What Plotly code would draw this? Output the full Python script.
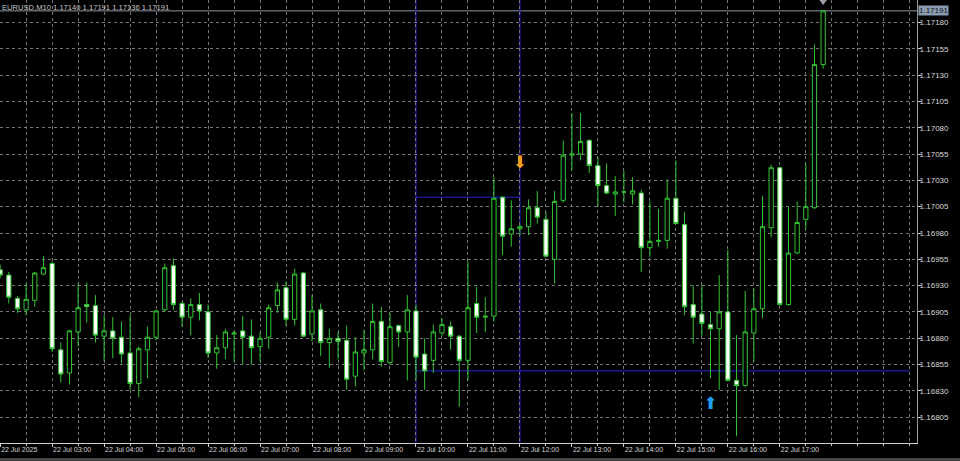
import plotly.graph_objects as go
import pandas as pd

symbol_title = "EURUSD,M10 1.17140 1.17191 1.17136 1.17191"
times = pd.date_range("2025-07-22 02:00", periods=96, freq="10min")

opens = [1.16945, 1.16940, 1.16918, 1.16907, 1.16916, 1.16941, 1.16951, 1.16869, 1.16847, 1.16886,
         1.16912, 1.16911, 1.16882, 1.16887, 1.16881, 1.16866, 1.16837, 1.16869, 1.16881, 1.16907,
         1.16949, 1.16913, 1.16900, 1.16912, 1.16905, 1.16866, 1.16871, 1.16884, 1.16887, 1.16882,
         1.16872, 1.16881, 1.16911, 1.16928, 1.16898, 1.16942, 1.16884, 1.16907, 1.16876, 1.16880,
         1.16878, 1.16844, 1.16866, 1.16869, 1.16896, 1.16857, 1.16892, 1.16886, 1.16906, 1.16865,
         1.16859, 1.16885, 1.16891, 1.16882, 1.16859, 1.16913, 1.16900, 1.16901, 1.17014, 1.16979,
         1.16984, 1.16986, 1.17004, 1.16993, 1.16955, 1.17011, 1.17054, 1.17055, 1.17068, 1.17044,
         1.17025, 1.17017, 1.17019, 1.17017, 1.17018, 1.16966, 1.16972, 1.16973, 1.17013, 1.16988,
         1.16912, 1.16903, 1.16893, 1.16889, 1.16905, 1.16840, 1.16835, 1.16885, 1.16908, 1.16985,
         1.17042, 1.16912, 1.16961, 1.16993, 1.17004, 1.17140]
highs = [1.16950, 1.16943, 1.16920, 1.16932, 1.16943, 1.16958, 1.16953, 1.16876, 1.16888, 1.16932,
         1.16933, 1.16921, 1.16902, 1.16900, 1.16896, 1.16902, 1.16872, 1.16891, 1.16907, 1.16951,
         1.16956, 1.16915, 1.16918, 1.16923, 1.16912, 1.16883, 1.16889, 1.16887, 1.16901, 1.16898,
         1.16886, 1.16912, 1.16933, 1.16934, 1.16946, 1.16943, 1.16921, 1.16913, 1.16889, 1.16886,
         1.16892, 1.16881, 1.16888, 1.16913, 1.16910, 1.16904, 1.16893, 1.16921, 1.16912, 1.16880,
         1.16893, 1.16899, 1.16896, 1.16883, 1.16953, 1.16929, 1.16919, 1.17033, 1.17015, 1.17011,
         1.16988, 1.17012, 1.17020, 1.17000, 1.17020, 1.17068, 1.17094, 1.17094, 1.17069, 1.17052,
         1.17046, 1.17034, 1.17039, 1.17033, 1.17021, 1.17010, 1.17003, 1.17031, 1.17049, 1.17000,
         1.16930, 1.16931, 1.16905, 1.16940, 1.16964, 1.16883, 1.16925, 1.16927, 1.17015, 1.17045,
         1.17043, 1.17005, 1.17010, 1.17046, 1.17159, 1.17191]
lows = [1.16937, 1.16913, 1.16904, 1.16902, 1.16910, 1.16940, 1.16867, 1.16838, 1.16836, 1.16872,
        1.16895, 1.16876, 1.16858, 1.16861, 1.16856, 1.16831, 1.16824, 1.16842, 1.16878, 1.16905,
        1.16907, 1.16891, 1.16883, 1.16897, 1.16861, 1.16851, 1.16860, 1.16858, 1.16855, 1.16855,
        1.16858, 1.16870, 1.16904, 1.16892, 1.16892, 1.16881, 1.16877, 1.16863, 1.16852, 1.16860,
        1.16831, 1.16834, 1.16850, 1.16860, 1.16853, 1.16855, 1.16872, 1.16840, 1.16840, 1.16831,
        1.16847, 1.16882, 1.16869, 1.16815, 1.16840, 1.16885, 1.16886, 1.16896, 1.16959, 1.16967,
        1.16978, 1.16978, 1.16989, 1.16957, 1.16932, 1.17009, 1.17040, 1.17049, 1.17037, 1.17005,
        1.17017, 1.16996, 1.17009, 1.17007, 1.16943, 1.16957, 1.16967, 1.16965, 1.16988, 1.16902,
        1.16875, 1.16882, 1.16842, 1.16831, 1.16839, 1.16787, 1.16834, 1.16858, 1.16899, 1.16976,
        1.16911, 1.16911, 1.16960, 1.16984, 1.17003, 1.17136]
closes = [1.16940, 1.16919, 1.16908, 1.16917, 1.16942, 1.16947, 1.16870, 1.16846, 1.16887, 1.16909,
          1.16910, 1.16883, 1.16887, 1.16880, 1.16865, 1.16837, 1.16870, 1.16881, 1.16906, 1.16947,
          1.16912, 1.16900, 1.16912, 1.16906, 1.16866, 1.16871, 1.16886, 1.16885, 1.16881, 1.16871,
          1.16880, 1.16909, 1.16926, 1.16898, 1.16941, 1.16882, 1.16906, 1.16876, 1.16880, 1.16877,
          1.16841, 1.16867, 1.16869, 1.16896, 1.16858, 1.16891, 1.16886, 1.16907, 1.16862, 1.16849,
          1.16886, 1.16893, 1.16882, 1.16859, 1.16909, 1.16900, 1.16901, 1.17013, 1.16977, 1.16984,
          1.16986, 1.17004, 1.16995, 1.16958, 1.17010, 1.17054, 1.17055, 1.17067, 1.17044, 1.17025,
          1.17018, 1.17019, 1.17019, 1.17020, 1.16966, 1.16972, 1.16973, 1.17013, 1.16989, 1.16910,
          1.16900, 1.16894, 1.16889, 1.16905, 1.16840, 1.16835, 1.16886, 1.16908, 1.16986, 1.17042,
          1.16912, 1.16961, 1.16990, 1.17005, 1.17140, 1.17191]

x_tick_times = pd.date_range("2025-07-22 02:00", "2025-07-22 17:00", freq="60min")
x_tick_text = ["22 Jul 2025", "22 Jul 03:00", "22 Jul 04:00", "22 Jul 05:00", "22 Jul 06:00",
               "22 Jul 07:00", "22 Jul 08:00", "22 Jul 09:00", "22 Jul 10:00", "22 Jul 11:00",
               "22 Jul 12:00", "22 Jul 13:00", "22 Jul 14:00", "22 Jul 15:00", "22 Jul 16:00",
               "22 Jul 17:00"]
y_tick_vals = [1.16805, 1.16830, 1.16855, 1.16880, 1.16905, 1.16930, 1.16955, 1.16980,
               1.17005, 1.17030, 1.17055, 1.17080, 1.17105, 1.17130, 1.17155, 1.17180]
y_tick_text = ["%.5f" % v for v in y_tick_vals]

bid_price = 1.17191
session_start = "2025-07-22 10:00"
session_end = "2025-07-22 12:00"
session_high = 1.17014
session_low = 1.16849
sell_arrow_time, sell_arrow_price = "2025-07-22 12:00", 1.17046
buy_arrow_time, buy_arrow_price = "2025-07-22 15:40", 1.16817

GREEN = "#33c433"
GRID = "#777777"
BLUE = "#2424d8"
AXIS = "#d0d0d0"
FONT = "Liberation Sans"

fig = go.Figure()
fig.add_trace(go.Candlestick(
    x=times, open=opens, high=highs, low=lows, close=closes,
    increasing=dict(line=dict(color=GREEN, width=1), fillcolor="black"),
    decreasing=dict(line=dict(color=GREEN, width=1), fillcolor="white"),
    hoverinfo="skip", showlegend=False,
))
fig.add_trace(go.Scatter(
    x=[sell_arrow_time], y=[sell_arrow_price], mode="text", text=["⬇"],
    textfont=dict(family="DejaVu Sans", size=17, color="#f5a01e"),
    hoverinfo="skip", showlegend=False,
))
fig.add_trace(go.Scatter(
    x=[buy_arrow_time], y=[buy_arrow_price], mode="text", text=["⬆"],
    textfont=dict(family="DejaVu Sans", size=17, color="#1ea0f0"),
    hoverinfo="skip", showlegend=False,
))
fig.add_trace(go.Scatter(
    x=[times[-1]], y=[1.17200], mode="markers",
    marker=dict(symbol="triangle-down", size=7, color="#9aa0aa"),
    cliponaxis=False, hoverinfo="skip", showlegend=False,
))

shapes = [
    dict(type="line", xref="paper", x0=0, x1=1, yref="y", y0=bid_price, y1=bid_price,
         line=dict(color="#8a96a3", width=1), layer="below"),
    dict(type="line", xref="x", x0=session_start, x1=session_start, yref="paper", y0=0, y1=1,
         line=dict(color=BLUE, width=1), layer="below"),
    dict(type="line", xref="x", x0=session_end, x1=session_end, yref="paper", y0=0, y1=1,
         line=dict(color=BLUE, width=1), layer="below"),
    dict(type="line", xref="x", x0=session_start, x1=session_end, yref="y", y0=session_high, y1=session_high,
         line=dict(color=BLUE, width=1), layer="below"),
    dict(type="line", xref="x", x0=session_start, x1="2025-07-22 19:30", yref="y", y0=session_low, y1=session_low,
         line=dict(color=BLUE, width=1), layer="below"),
    dict(type="rect", xref="paper", x0=-0.01, x1=1.06, yref="paper", y0=-0.034, y1=-0.05,
         fillcolor="#444444", line=dict(width=0)),
]

annotations = [
    dict(xref="paper", yref="paper", x=0, y=1, xanchor="left", yanchor="top", xshift=0, yshift=-1,
         text=symbol_title, showarrow=False, font=dict(family=FONT, size=7.6, color="#c8c8c8")),
    dict(xref="paper", yref="y", x=1, y=bid_price, xanchor="left", yanchor="middle", xshift=1,
         text="%.5f" % bid_price, showarrow=False, bgcolor="#8a9bb0", borderpad=0,
         font=dict(family=FONT, size=8, color="#101820")),
]

fig.update_layout(
    width=960, height=461, margin=dict(l=0, r=43, t=0, b=18, autoexpand=False),
    paper_bgcolor="black", plot_bgcolor="black", showlegend=False,
    shapes=shapes, annotations=annotations, boxgap=0.3,
)
fig.update_xaxes(
    type="date", range=["2025-07-22 01:59:50", "2025-07-22 19:38:20"],
    rangeslider_visible=False,
    tickmode="array", tickvals=x_tick_times, ticktext=x_tick_text, tickangle=0,
    ticklabelposition="outside right", ticks="outside", ticklen=3, tickcolor=AXIS,
    tickfont=dict(family=FONT, size=7, color="#d8d8d8"),
    showline=True, linecolor=AXIS, linewidth=1, zeroline=False,
    showgrid=True, gridcolor=GRID, gridwidth=1, griddash="3px,3px",
    minor=dict(tickmode="linear", tick0="2025-07-22 02:30", dtick=1800000, showgrid=True,
               gridcolor=GRID, gridwidth=1, griddash="3px,3px", ticks="outside", ticklen=2,
               tickcolor=AXIS),
)
fig.update_yaxes(
    side="right", range=[1.167805, 1.1720135],
    tickmode="array", tickvals=y_tick_vals, ticktext=y_tick_text,
    ticks="outside", ticklen=3, tickcolor=AXIS, ticklabelstandoff=-3,
    tickfont=dict(family=FONT, size=8, color="#d8d8d8"),
    showline=True, linecolor="#9a9a9a", linewidth=1, zeroline=False,
    showgrid=True, gridcolor=GRID, gridwidth=1, griddash="3px,3px",
)

fig.write_html("out.html", config={"displayModeBar": False},
               post_script="document.body.style.margin='0px';")
